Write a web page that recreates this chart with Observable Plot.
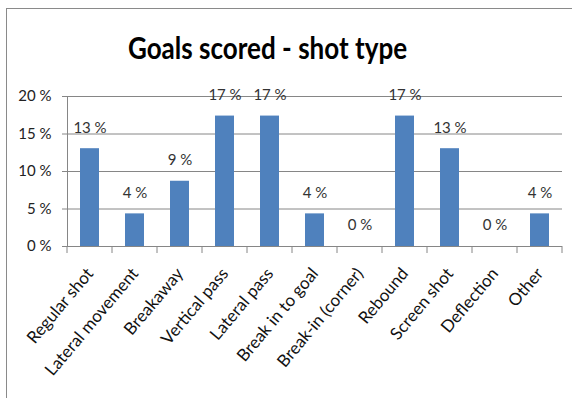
<!DOCTYPE html>
<html>
<head>
<meta charset="utf-8">
<script src="https://cdn.jsdelivr.net/npm/d3@7"></script>
<script src="https://cdn.jsdelivr.net/npm/@observablehq/plot@0.6"></script>
<style>
  html, body { margin: 0; padding: 0; background: #fff; }
  #wrap { position: relative; width: 572px; height: 398px; overflow: hidden; font-family: Lato, "Open Sans", sans-serif; }
  #border { position: absolute; left: 6px; top: 8px; width: 600px; height: 420px; border-left: 1.5px solid #8a8a8a; border-top: 1.5px solid #8a8a8a; }
  #title { position: absolute; left: 0; top: 28px; width: 535px; text-align: center; font-size: 31px; font-weight: bold; color: #000; transform: scaleX(0.84); transform-origin: 267.5px 0; }
  #chart { position: absolute; left: 0; top: 0; }
</style>
</head>
<body>
<div id="wrap">
  <div id="border"></div>
  <div id="title">Goals scored - shot type</div>
  <div id="chart"></div>
</div>
<script>
const categories = ["Regular shot", "Lateral movement", "Breakaway", "Vertical pass", "Lateral pass", "Break in to goal", "Break-in (corner)", "Rebound", "Screen shot", "Deflection", "Other"];
const shares = [0.1304, 0.0435, 0.087, 0.1739, 0.1739, 0.0435, 0, 0.1739, 0.1304, 0, 0.0435];
const yTicks = [0, 0.05, 0.10, 0.15, 0.20];

const data = categories.map((c, i) => ({category: c, share: shares[i]}));
const pct = d => Math.round(d * 100) + " %";
const gray = "#868686";

const plot = Plot.plot({
  width: 572,
  height: 398,
  marginLeft: 67,
  marginRight: 10,
  marginTop: 96,
  marginBottom: 152,
  style: {background: "transparent", fontFamily: "Lato, 'Open Sans', sans-serif", color: "#222"},
  x: {domain: categories, padding: 0, label: null},
  y: {domain: [0, 0.2], label: null},
  marks: [
    Plot.gridY(yTicks, {stroke: gray, strokeOpacity: 1, strokeWidth: 1}),
    Plot.axisY(yTicks, {tickFormat: pct, tickSize: 5, tickPadding: 11, fontSize: 15, stroke: gray, strokeOpacity: 1, fill: "#222", label: null}),
    Plot.frame({anchor: "left", stroke: gray, strokeOpacity: 1}),
    Plot.barY(data, {x: "category", y: "share", fill: "#4F81BD", insetLeft: 13, insetRight: 13}),
    Plot.text(data, {x: "category", y: "share", text: d => pct(d.share), dy: -21, fontSize: 15, fill: "#333"}),
    Plot.axisX({tickSize: 0, tickRotate: -50, tickPadding: 24, dx: 0, fontSize: 17, fill: "#111", label: null})
  ]
});

// boundary ticks between categories, from the band scale
const xs = plot.scale("x");
const ys = plot.scale("y");
const y0 = ys.apply(0);
const svg = d3.select(plot);
const bounds = categories.map(c => xs.apply(c)).concat([xs.apply(categories[categories.length - 1]) + xs.bandwidth]);
svg.append("g").selectAll("line").data(bounds).join("line")
  .attr("x1", d => d).attr("x2", d => d)
  .attr("y1", y0).attr("y2", y0 + 7)
  .attr("stroke", gray);

document.getElementById("chart").appendChild(plot);
</script>
</body>
</html>
